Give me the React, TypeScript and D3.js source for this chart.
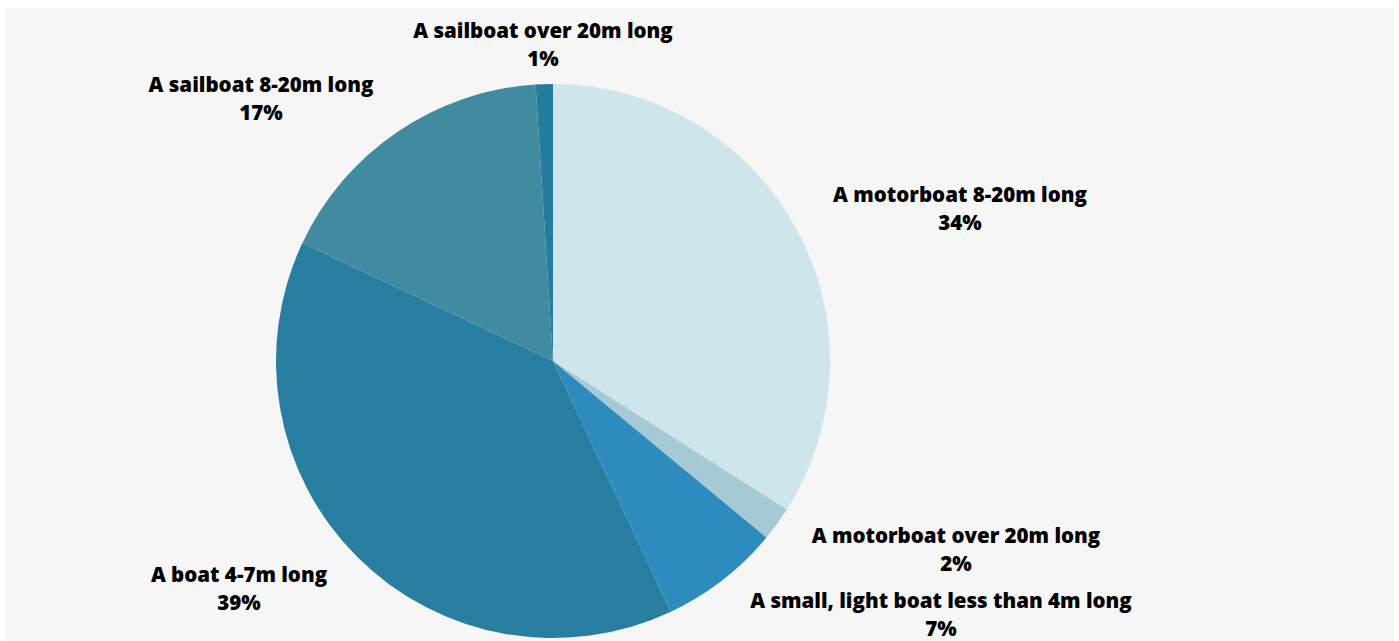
import React from "react";
import * as d3 from "d3";

const categories = [
  "A motorboat 8-20m long",
  "A motorboat over 20m long",
  "A small, light boat less than 4m long",
  "A boat 4-7m long",
  "A sailboat 8-20m long",
  "A sailboat over 20m long",
];
const values = [34, 2, 7, 39, 17, 1];
const colors = ["#cfe5ec", "#a6cad5", "#2e8bbd", "#277ea1", "#408b9f", "#247c9f"];
// label anchor: x center and first-line baseline, relative to pie center
const labelOffsets: [number, number][] = [
  [407, -159],
  [403, 182],
  [388, 247],
  [-314, 221],
  [-292, -269],
  [-10, -323],
];

const W = 1399;
const H = 641;
const cx = 553;
const cy = 361;
const R = 277;

export default function App() {
  const pie = d3.pie<number>().sort(null).value((d) => d)(values);
  const arc = d3.arc<d3.PieArcDatum<number>>().innerRadius(0).outerRadius(R);
  return (
    <svg
      width={W}
      height={H}
      style={{ position: "absolute", left: 0, top: 0, display: "block" }}
    >
      <rect x={5} y={8} width={1389} height={H} fill="#f6f6f6" />
      <g transform={`translate(${cx},${cy})`}>
        {pie.map((p, i) => (
          <path key={i} d={arc(p) || ""} fill={colors[i]} />
        ))}
      </g>
      <g
        fontFamily="'Open Sans', sans-serif"
        fontWeight={800}
        fontSize={20.5}
        fill="#000"
        textAnchor="middle"
      >
        {categories.map((c, i) => {
          const [dx, dy] = labelOffsets[i];
          return (
            <g key={i}>
              <text x={cx + dx} y={cy + dy}>{c}</text>
              <text x={cx + dx} y={cy + dy + 28}>{values[i]}%</text>
            </g>
          );
        })}
      </g>
    </svg>
  );
}
